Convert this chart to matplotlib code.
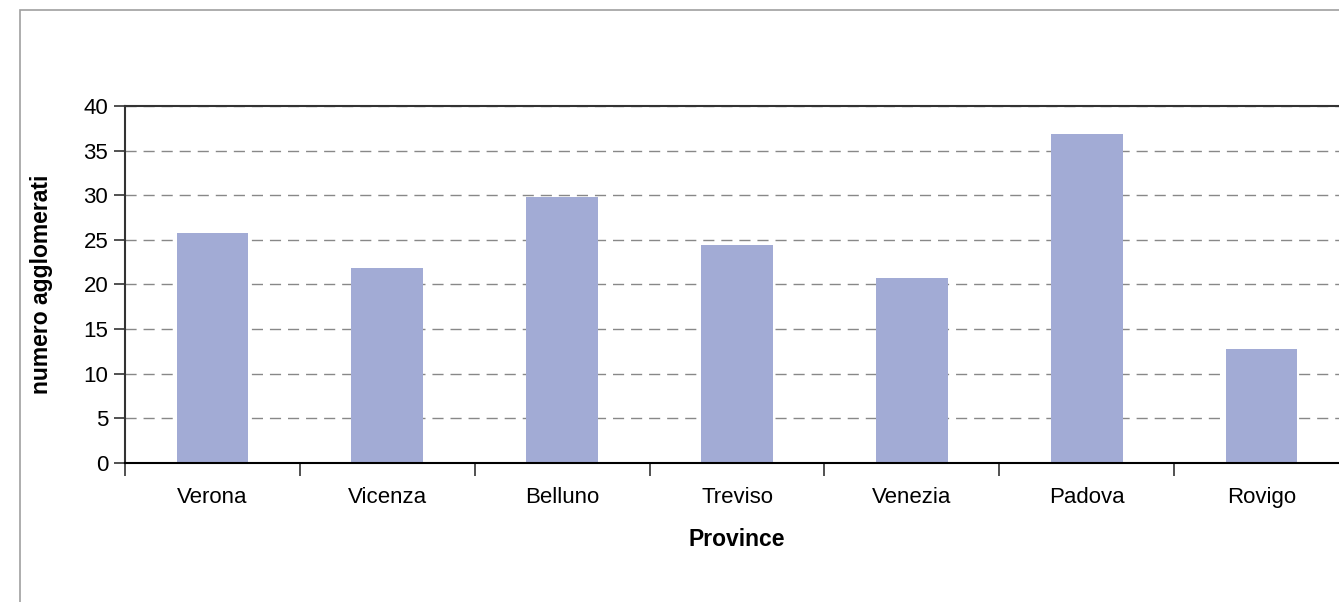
import matplotlib.pyplot as plt
from matplotlib.patches import Rectangle

plt.rcParams['font.family'] = ['Liberation Sans', 'DejaVu Sans']

# data
province = ["Verona", "Vicenza", "Belluno", "Treviso", "Venezia", "Padova", "Rovigo"]
agglomerati = [25.8, 21.8, 29.8, 24.4, 20.7, 36.9, 12.8]
yticks = [0, 5, 10, 15, 20, 25, 30, 35, 40]

fig = plt.figure(figsize=(13.39, 6.02), dpi=100)

# outer chart frame (cropped at right and bottom)
fig.patches.append(Rectangle((20 / 1339, -0.1), 1.2, 1.1 - 10 / 602,
                             transform=fig.transFigure, fill=False,
                             edgecolor='#a0a0a0', linewidth=1.2))

ax = fig.add_axes([125 / 1339, 1 - 463 / 602, 1224 / 1339, 357 / 602])

x = list(range(len(province)))
ax.bar(x, agglomerati, width=0.41, color='#a2abd5', zorder=2)

ax.set_xlim(-0.5, len(province) - 0.5)
ax.set_ylim(0, 40)
ax.set_yticks(yticks)
ax.set_yticklabels([str(v) for v in yticks], fontsize=16)
ax.set_xticks(x)
ax.set_xticklabels(province, fontsize=16)
ax.tick_params(axis='x', length=0, pad=17)
ax.set_xticks([i - 0.5 for i in range(len(province) + 1)], minor=True)
ax.tick_params(axis='x', which='minor', length=9, width=1.2, color='#333333', direction='out')
ax.tick_params(axis='y', length=8, width=1.2, color='#333333', pad=4)

ax.yaxis.grid(True, linestyle=(0, (8, 5)), color='#888888', linewidth=1.0, zorder=1)
ax.set_axisbelow(True)

for side in ['left', 'top', 'bottom']:
    ax.spines[side].set_linewidth(1.5)
    ax.spines[side].set_color('#333333')
ax.spines['bottom'].set_color('black')
ax.spines['right'].set_visible(False)

ax.set_xlabel('Province', fontsize=16.5, fontweight='bold', labelpad=15)
ax.set_ylabel('numero agglomerati', fontsize=16.5, fontweight='bold', labelpad=22)

fig.savefig('out.png', dpi=100)
